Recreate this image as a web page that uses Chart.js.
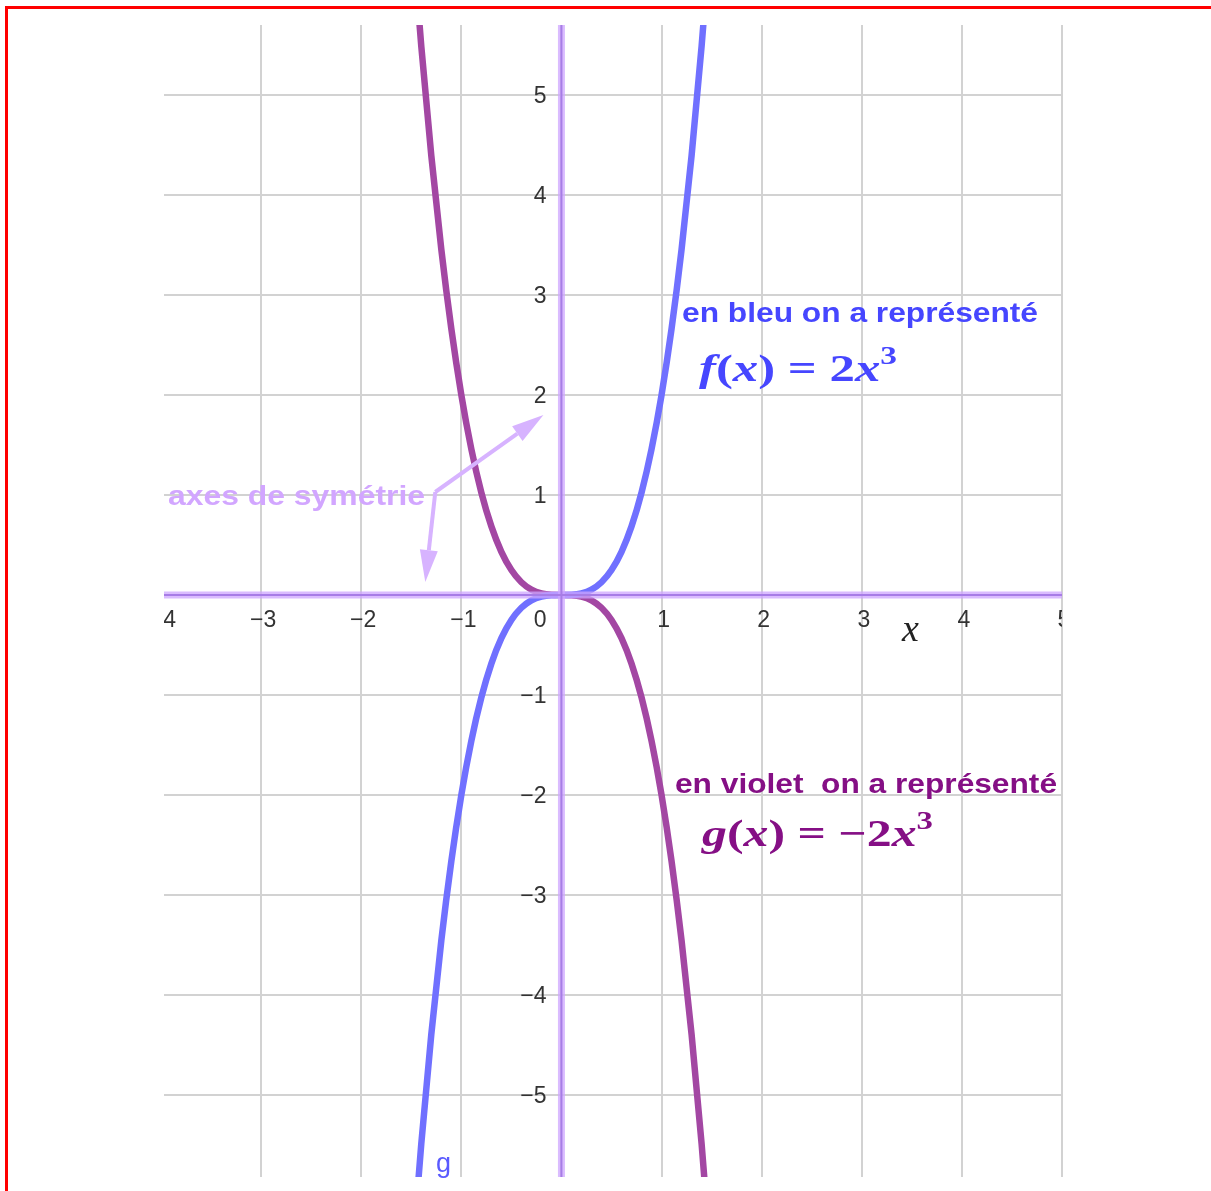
<!DOCTYPE html>
<html lang="fr">
<head>
<meta charset="UTF-8">
<title>f(x) = 2x³ et g(x) = −2x³</title>
<script src="https://cdn.jsdelivr.net/npm/chart.js@4.4.0/dist/chart.umd.min.js"></script>
<style>
  body { margin: 0; background: #fff; }
  .cadre { position: absolute; left: 5px; top: 6px; right: 0; bottom: 0;
           border-top: 3px solid #ff0000; border-left: 3px solid #ff0000; }
  #graphe { position: absolute; left: 0; top: 0; }
</style>
</head>
<body>
<div class="cadre"></div>
<canvas id="graphe" width="1211" height="1191"></canvas>

<script>
  const abscisses = [-1.5, -1.4, -1.3, -1.2, -1.1, -1.0, -0.9, -0.8, -0.7, -0.6, -0.5, -0.4, -0.3, -0.2, -0.1,
    0, 0.1, 0.2, 0.3, 0.4, 0.5, 0.6, 0.7, 0.8, 0.9, 1.0, 1.1, 1.2, 1.3, 1.4, 1.5];
  const valeursF = [-6.75, -5.488, -4.394, -3.456, -2.662, -2, -1.458, -1.024, -0.686, -0.432, -0.25, -0.128, -0.054, -0.016, -0.002,
    0, 0.002, 0.016, 0.054, 0.128, 0.25, 0.432, 0.686, 1.024, 1.458, 2, 2.662, 3.456, 4.394, 5.488, 6.75];
  const valeursG = [6.75, 5.488, 4.394, 3.456, 2.662, 2, 1.458, 1.024, 0.686, 0.432, 0.25, 0.128, 0.054, 0.016, 0.002,
    0, -0.002, -0.016, -0.054, -0.128, -0.25, -0.432, -0.686, -1.024, -1.458, -2, -2.662, -3.456, -4.394, -5.488, -6.75];

  // fenêtre et graduations
  const xMin = -3.97, xMax = 5;
  const yMin = -5.82, yMax = 5.7;
  const gradX = [-4, -3, -2, -1, 1, 2, 3, 4, 5];
  const gradY = [-5, -4, -3, -2, -1, 1, 2, 3, 4, 5];

  function points(xs, ys) {
    return xs.map((x, i) => ({ x: x, y: ys[i] }));
  }

  const moins = v => (v < 0 ? '\u2212' + Math.abs(v) : String(v));

  // texte étiré horizontalement pour tenir dans une largeur donnée
  function texteLarge(ctx, txt, x, base, largeur, font, couleur) {
    ctx.save();
    ctx.font = font;
    ctx.fillStyle = couleur;
    ctx.textBaseline = 'alphabetic';
    ctx.textAlign = 'left';
    const w = ctx.measureText(txt).width;
    ctx.translate(x, base);
    ctx.scale(largeur / w, 1);
    ctx.fillText(txt, 0, 0);
    ctx.restore();
  }

  // formule en morceaux (italique / droit / exposant)
  function formule(ctx, morceaux, x, base, largeur, couleur) {
    ctx.save();
    let total = 0;
    morceaux.forEach(m => { ctx.font = m.f; total += ctx.measureText(m.t).width; });
    ctx.translate(x, base);
    ctx.scale(largeur / total, 1);
    ctx.fillStyle = couleur;
    ctx.textBaseline = 'alphabetic';
    let cx = 0;
    morceaux.forEach(m => {
      ctx.font = m.f;
      ctx.fillText(m.t, cx, m.dy || 0);
      cx += ctx.measureText(m.t).width;
    });
    ctx.restore();
  }

  function fleche(ctx, x0, y0, x1, y1, couleur) {
    const ang = Math.atan2(y1 - y0, x1 - x0);
    const L = 32, h = 9;
    ctx.save();
    ctx.strokeStyle = couleur;
    ctx.fillStyle = couleur;
    ctx.lineWidth = 4;
    ctx.beginPath();
    ctx.moveTo(x0, y0);
    ctx.lineTo(x1 - L * Math.cos(ang), y1 - L * Math.sin(ang));
    ctx.stroke();
    ctx.beginPath();
    ctx.moveTo(x1, y1);
    ctx.lineTo(x1 - L * Math.cos(ang) + h * Math.sin(ang), y1 - L * Math.sin(ang) - h * Math.cos(ang));
    ctx.lineTo(x1 - L * Math.cos(ang) - h * Math.sin(ang), y1 - L * Math.sin(ang) + h * Math.cos(ang));
    ctx.closePath();
    ctx.fill();
    ctx.restore();
  }

  const habillage = {
    id: 'habillage',
    afterDatasetsDraw(chart) {
      const ctx = chart.ctx;
      const a = chart.chartArea;
      const sx = chart.scales.x, sy = chart.scales.y;
      const x0 = sx.getPixelForValue(0), y0 = sy.getPixelForValue(0);

      // graduations près des axes
      ctx.save();
      ctx.beginPath();
      ctx.rect(a.left, a.top, a.right - a.left, a.bottom - a.top);
      ctx.clip();
      ctx.font = '23px "Liberation Sans", Arial, sans-serif';
      ctx.fillStyle = '#333';
      ctx.textBaseline = 'middle';
      ctx.textAlign = 'center';
      gradX.forEach(v => ctx.fillText(moins(v), sx.getPixelForValue(v) + 2, y0 + 26));
      ctx.textAlign = 'right';
      gradY.forEach(v => ctx.fillText(moins(v), x0 - 15, sy.getPixelForValue(v) + 2));
      ctx.fillText('0', x0 - 15, y0 + 26);
      ctx.restore();

      // flèches "axes de symétrie"
      const jx = sx.getPixelForValue(-1.26), jy = sy.getPixelForValue(1.03);
      const couleurAxe = '#d7b3ff';
      fleche(ctx, jx, jy, sx.getPixelForValue(-0.18), sy.getPixelForValue(1.8), couleurAxe);
      fleche(ctx, jx, jy, sx.getPixelForValue(-1.36), sy.getPixelForValue(0.13), couleurAxe);
      const sans = 'bold 28px "Liberation Sans", Arial, sans-serif';
      texteLarge(ctx, 'axes de symétrie', 168, 505, 257, sans, '#d2a6ff');

      // légendes des courbes
      texteLarge(ctx, 'en bleu on a représenté', 682, 322, 356, sans, '#4646ff');
      texteLarge(ctx, 'en violet  on a représenté', 675, 793, 382, sans, '#850f85');

      const it = 'italic bold 38px "Liberation Serif", "DejaVu Serif", serif';
      const dr = 'bold 38px "Liberation Serif", "DejaVu Serif", serif';
      const ex = 'bold 25px "Liberation Serif", "DejaVu Serif", serif';
      formule(ctx, [
        { t: 'f', f: it }, { t: '(', f: dr }, { t: 'x', f: it }, { t: ')', f: dr },
        { t: ' = ', f: dr }, { t: '2', f: dr }, { t: 'x', f: it }, { t: '3', f: ex, dy: -17 }
      ], 699, 381, 198, '#4646ff');
      formule(ctx, [
        { t: 'g', f: it }, { t: '(', f: dr }, { t: 'x', f: it }, { t: ')', f: dr },
        { t: ' = ', f: dr }, { t: '\u2212', f: dr }, { t: '2', f: dr }, { t: 'x', f: it }, { t: '3', f: ex, dy: -17 }
      ], 702, 846, 231, '#850f85');

      // nom de l'axe et étiquette de la courbe
      ctx.save();
      ctx.fillStyle = '#222';
      ctx.font = 'italic 38px "Liberation Serif", "DejaVu Serif", serif';
      ctx.textBaseline = 'alphabetic';
      ctx.fillText('x', 902, 641);
      ctx.fillStyle = '#5a5aff';
      ctx.font = '27px "Liberation Sans", Arial, sans-serif';
      ctx.fillText('g', 436, 1172);
      ctx.restore();
    }
  };

  const grille = ctx => (Number.isInteger(ctx.tick.value) ? '#d2d2d2' : 'rgba(0,0,0,0)');

  new Chart(document.getElementById('graphe'), {
    type: 'scatter',
    data: {
      datasets: [
        { // axe des abscisses (bande claire + trait central)
          data: [{ x: xMin, y: 0 }, { x: xMax, y: 0 }],
          borderColor: '#a77de6', borderWidth: 2, clip: 0
        },
        {
          data: [{ x: 0, y: yMin }, { x: 0, y: yMax }],
          borderColor: '#a77de6', borderWidth: 2, clip: 0
        },
        {
          data: [{ x: xMin, y: 0 }, { x: xMax, y: 0 }],
          borderColor: 'rgba(205,165,255,0.75)', borderWidth: 7, clip: 0
        },
        {
          data: [{ x: 0, y: yMin }, { x: 0, y: yMax }],
          borderColor: 'rgba(205,165,255,0.75)', borderWidth: 7, clip: 0
        },
        {
          label: 'f',
          data: points(abscisses, valeursF),
          borderColor: '#7070ff', borderWidth: 6.5, clip: 0,
          cubicInterpolationMode: 'monotone'
        },
        {
          label: 'g',
          data: points(abscisses, valeursG),
          borderColor: '#a347a3', borderWidth: 6.5, clip: 0,
          cubicInterpolationMode: 'monotone'
        }
      ]
    },
    options: {
      responsive: false,
      animation: false,
      devicePixelRatio: 1,
      showLine: true,
      elements: { point: { radius: 0, hoverRadius: 0 }, line: { borderCapStyle: 'butt' } },
      layout: { padding: { left: 164, top: 25, right: 149, bottom: 14 } },
      plugins: { legend: { display: false }, tooltip: { enabled: false } },
      scales: {
        x: {
          type: 'linear', min: xMin, max: xMax,
          ticks: { display: false, stepSize: 1 },
          grid: { color: grille, lineWidth: 2, drawTicks: false },
          border: { display: false },
          afterFit: s => { s.height = 0; }
        },
        y: {
          type: 'linear', min: yMin, max: yMax,
          ticks: { display: false, stepSize: 1 },
          grid: { color: grille, lineWidth: 2, drawTicks: false },
          border: { display: false },
          afterFit: s => { s.width = 0; }
        }
      }
    },
    plugins: [habillage]
  });
</script>
</body>
</html>
